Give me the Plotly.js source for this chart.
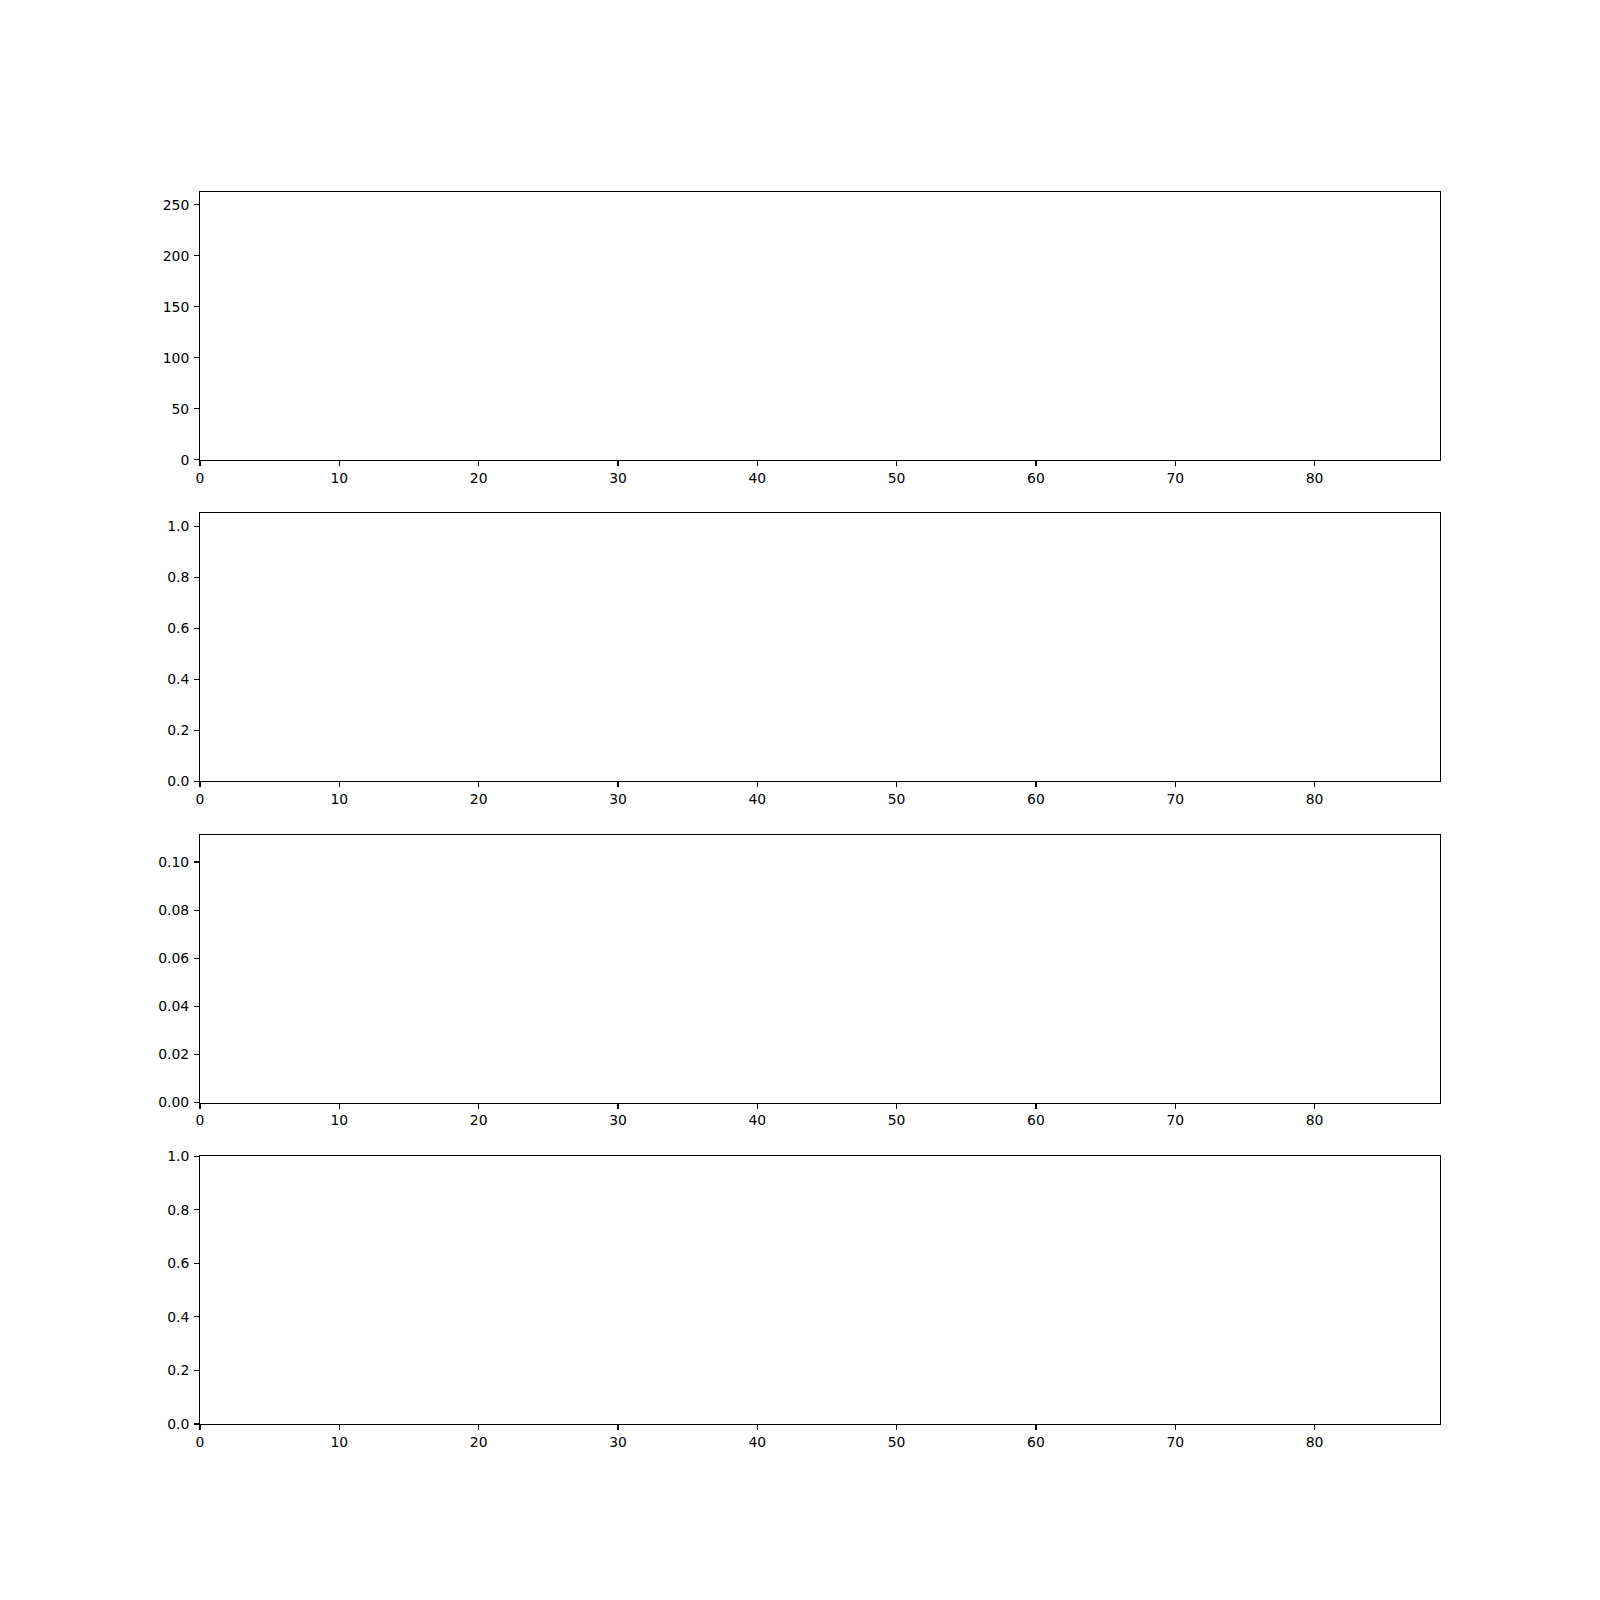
<!DOCTYPE html>
<html>
<head>
<meta charset="utf-8">
<script src="https://cdn.plot.ly/plotly-3.0.1.min.js"></script>
<style>html,body{margin:0;padding:0;background:#fff;}#chart{width:1600px;height:1600px;}</style>
</head>
<body>
<div id="chart"></div>
<script>
// The reference panels are empty: no plotted values.
const xValues = [];
const panel1Values = [];
const panel2Values = [];
const panel3Values = [];
const panel4Values = [];

const xRange = [0, 89];
const yRanges = [[0, 262.5], [0, 1.05], [0, 0.1113], [0, 1.0]];
const yDticks = [50, 0.2, 0.02, 0.2];
const yFormats = ['d', '.1f', '.2f', '.1f'];
const domains = [[0.78261, 1], [0.52174, 0.73913], [0.26087, 0.47826], [0, 0.21739]];

const font = {family: 'DejaVu Sans', size: 13.9, color: '#000'};
const series = [panel1Values, panel2Values, panel3Values, panel4Values];

const traces = series.map((vals, i) => ({
  x: xValues, y: vals, type: 'scatter', mode: 'lines',
  xaxis: i === 0 ? 'x' : 'x' + (i + 1),
  yaxis: i === 0 ? 'y' : 'y' + (i + 1),
  showlegend: false, line: {color: '#1f77b4'}
}));

const layout = {
  width: 1600, height: 1600,
  margin: {l: 200, r: 160, t: 192, b: 176, pad: 0},
  paper_bgcolor: '#fff', plot_bgcolor: '#fff',
  font: font, showlegend: false
};

for (let i = 0; i < 4; i++) {
  const xk = i === 0 ? 'xaxis' : 'xaxis' + (i + 1);
  const yk = i === 0 ? 'yaxis' : 'yaxis' + (i + 1);
  const yid = i === 0 ? 'y' : 'y' + (i + 1);
  const xid = i === 0 ? 'x' : 'x' + (i + 1);
  layout[xk] = {
    domain: [0, 1], anchor: yid, range: xRange, autorange: false,
    tick0: 0, dtick: 10, ticks: 'outside', ticklen: 4.9, tickwidth: 1.1, tickcolor: '#000',
    ticklabelstandoff: 0,
    showline: true, linecolor: '#000', linewidth: 1.1, mirror: true,
    showgrid: false, zeroline: false, tickfont: font, fixedrange: true
  };
  layout[yk] = {
    domain: domains[i], anchor: xid, range: yRanges[i], autorange: false,
    tick0: 0, dtick: yDticks[i], tickformat: yFormats[i],
    ticks: 'outside', ticklen: 4.9, tickwidth: 1.1, tickcolor: '#000',
    ticklabelstandoff: 2,
    showline: true, linecolor: '#000', linewidth: 1.1, mirror: true,
    showgrid: false, zeroline: false, tickfont: font, fixedrange: true
  };
}

Plotly.newPlot('chart', traces, layout, {staticPlot: true, displayModeBar: false});
</script>
</body>
</html>
